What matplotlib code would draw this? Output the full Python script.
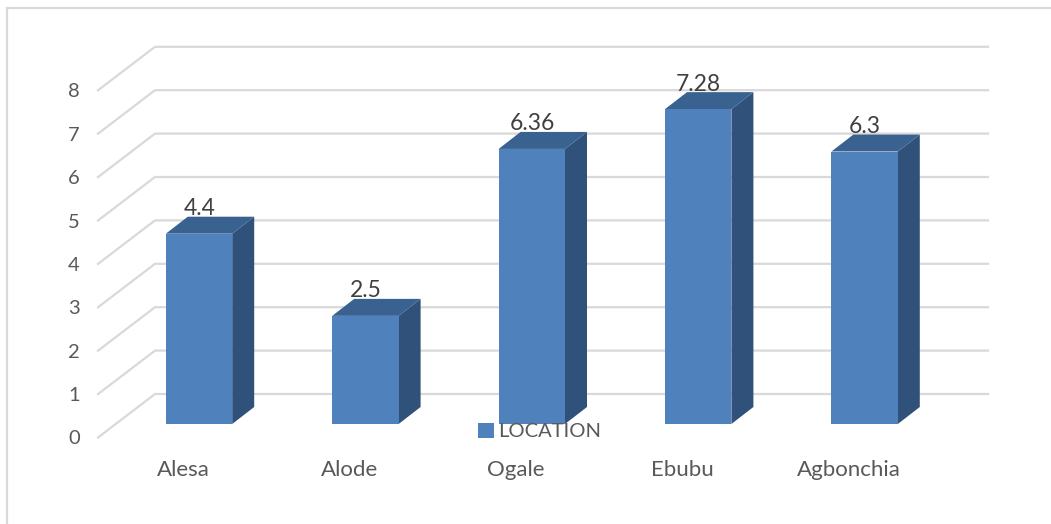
import matplotlib
matplotlib.use("Agg")
import matplotlib.pyplot as plt
from matplotlib.patches import Polygon, Patch

categories = ["Alesa", "Alode", "Ogale", "Ebubu", "Agbonchia"]
values = [4.4, 2.5, 6.36, 7.28, 6.3]
value_labels = ["4.4", "2.5", "6.36", "7.28", "6.3"]
y_ticks = [0, 1, 2, 3, 4, 5, 6, 7, 8]
series_name = "LOCATION"

W, H = 1051, 524
X0, XU = 199.0, 166.4      # pixel of category 0, pixels per category
Y0, YU = 424.0, 43.25      # pixel of value 0 on the bar front, pixels per unit
FRONT, SIDE, TOP = "#4f81bd", "#30527a", "#3a6291"
GRID, TXT = "#d9d9d9", "#595959"

plt.rcParams["font.family"] = ["Lato", "DejaVu Sans"]
fig = plt.figure(figsize=(W / 100, H / 100), dpi=100)
ax = fig.add_axes([0, 0, 1, 1])
ax.set_xlim(-X0 / XU, (W - X0) / XU)
ax.set_ylim((Y0 - H) / YU, Y0 / YU)
ax.axis("off")

def dx(px): return px / XU
def dy(px): return px / YU

# chart frame (top and left edges are visible in the crop)
ax.plot([dx(7 - X0), dx(7 - X0), dx(W - X0)], [dy(Y0 - H), dy(Y0 - 8), dy(Y0 - 8)],
        color=GRID, lw=1.6, solid_joinstyle="miter", zorder=1)

# 3-D gridlines: side wall + back wall
GU = 43.4
for v in y_ticks:
    xs = [dx(98 - X0), dx(155 - X0), dx(988 - X0)]
    yb = dy(Y0 - 394 + v * GU)
    yf = dy(Y0 - 437.5 + v * GU)
    ax.plot(xs, [yf, yb, yb], color=GRID, lw=1.6, solid_joinstyle="miter", zorder=1)
    ax.text(dx(74 - X0), yf - dy(1.5), str(v), ha="center", va="center",
            fontsize=14.5, color=TXT, zorder=5)

# bars
half = dx(33.2)
ddx, ddy = dx(22), dy(17)
for i, (v, lab, cat) in enumerate(zip(values, value_labels, categories)):
    l, r = i - half, i + half
    ax.add_patch(Polygon([(r, 0), (r + ddx, ddy), (r + ddx, v + ddy), (r, v)],
                         closed=True, fc=SIDE, ec="none", zorder=2))
    ax.add_patch(Polygon([(l, v), (r, v), (r + ddx, v + ddy), (l + ddx, v + ddy)],
                         closed=True, fc=TOP, ec="none", zorder=2))
    ax.add_patch(Polygon([(l, 0), (r, 0), (r, v), (l, v)],
                         closed=True, fc=FRONT, ec="none", zorder=3))
    ax.text(i + dx(0.5), v + dy(25), lab, ha="center", va="center",
            fontsize=16.5, color="#404040", zorder=6)
    ax.text(i - dx(16), dy(Y0 - 470), cat, ha="center", va="center",
            fontsize=16, color=TXT, zorder=5)

leg = ax.legend(handles=[Patch(fc=FRONT, ec="none", label=series_name)],
                loc="center", bbox_to_anchor=(540 / W, 1 - 431.5 / H),
                bbox_transform=fig.transFigure, frameon=False,
                fontsize=14.5, handlelength=0.75, handleheight=0.75,
                handletextpad=0.25, borderpad=0, labelcolor=TXT)
leg.set_zorder(7)

fig.savefig("out.png", dpi=100)
